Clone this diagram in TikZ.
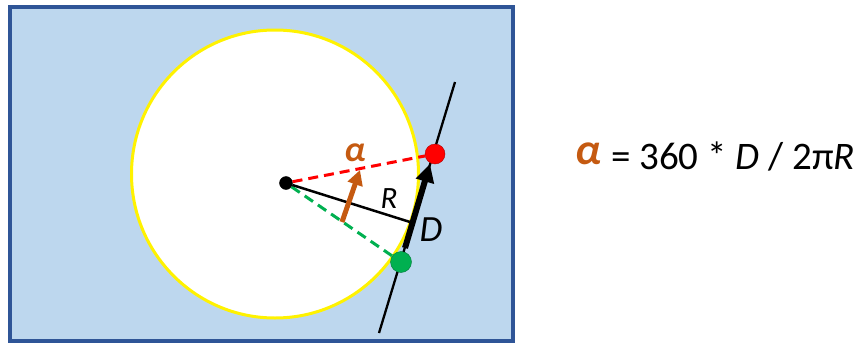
\documentclass[tikz,border=0pt]{standalone}
\usepackage{fontspec}
\setmainfont{Carlito}
\usepackage{xcolor}
\usepackage{tikz}
\usetikzlibrary{calc, arrows.meta, positioning}

\definecolor{paneblue}{RGB}{189,215,238}
\definecolor{paneedge}{RGB}{47,85,151}
\definecolor{anglecol}{RGB}{197,90,17}
\definecolor{startgreen}{RGB}{0,176,80}

\begin{document}
\begin{tikzpicture}[x=1pt, y=-1pt,
			dot/.style={draw, circle, inner sep=0pt, minimum size=#1},
			radial/.style={line width=3pt, dash pattern=on 10pt off 6pt},
			bigarrow/.style={line width=#1/3, -{Triangle[length=#1, width=#1]}},
			lbl/.style={inner sep=0pt, font=\fontsize{#1}{#1}\selectfont\itshape},
			greek/.style={inner sep=0pt, text=anglecol, font=\fontsize{#1}{#1}\selectfont\bfseries\itshape}
			]
			\useasboundingbox (0,0) rectangle (860,343);
			
			\draw[paneedge, line width=4pt, fill=paneblue] (9.5,6.5) rectangle (512.5,341);
			\draw[yellow, line width=3pt, fill=white] (275,174) circle[x radius=143.5pt, y radius=144pt];
			
			\coordinate (t1) at (455,82);
			\coordinate (t2) at (379,333);
			\draw[line width=2.3pt] (t1) -- (t2);
			
			\node [dot=13pt, fill=black](o) at (286,183) {};
			\node [dot=20pt, fill=red, draw=red!70!black](p1) at (435,154) {};
			\node [dot=21pt, fill=startgreen, draw=startgreen!70!black](p2) at (401,262) {};
			
			\draw[radial, red] (o) -- (p1);
			\draw[radial, startgreen] (o) -- (p2);
			
			\coordinate (f) at (410,222);
			\draw[line width=2.5pt] (o) -- (f);
			
			\coordinate (d0) at (405,248);
			\coordinate (d1) at (430,164);
			\draw[bigarrow=18pt] (d0) -- (d1);
			
			\coordinate (a0) at (342,222);
			\coordinate (a1) at (360,170);
			\draw[bigarrow=15pt, anglecol] (a0) -- (a1);
			
			\node [greek=36](alpha) at (355,153) {α};
			\node [lbl=31](r) at (389,199) {R};
			\node [lbl=37](d) at (431,230) {D};
			
			\node [greek=44](falpha) at (588,154) {α};
			\node [inner sep=0pt, font=\fontsize{39}{39}\selectfont, anchor=west](formula) at (611,156) {= 360 * \textit{D} / 2π\textit{R}};
			
		\end{tikzpicture}
\end{document}
